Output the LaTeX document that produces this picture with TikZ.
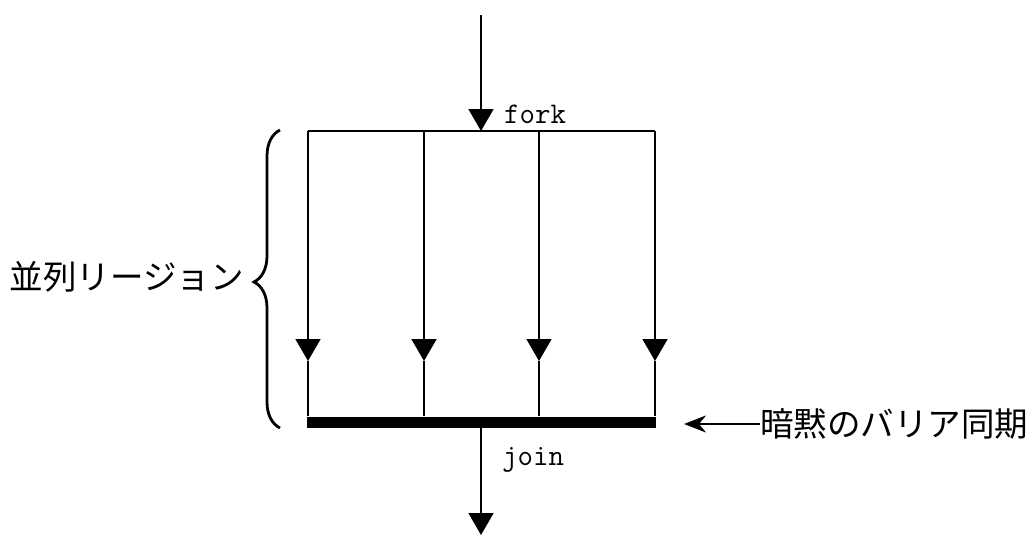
\documentclass[tikz,border=0pt]{standalone}
\usepackage{fontspec}
\newfontfamily\jpfont{Noto Sans CJK JP}
\usetikzlibrary{arrows.meta,decorations.pathreplacing}
\begin{document}
\begin{tikzpicture}[x=1pt,y=-1pt,
  line/.style={line width=1.6pt},
  tri/.style={-{Triangle[width=25pt,length=22pt]}},
  jp/.style={font=\jpfont\fontsize{33.5}{33.5}\selectfont, inner sep=0pt},
  lbl/.style={font=\ttfamily\fontsize{30}{30}\selectfont, inner sep=0pt}]
\useasboundingbox (0,0) rectangle (1034,535);
% coordinates
\coordinate (in) at (481,15);
\coordinate (fork) at (481,131);
\coordinate (out) at (481,535);
\coordinate (t1) at (308,131);
\coordinate (t2) at (424,131);
\coordinate (t3) at (539,131);
\coordinate (t4) at (655,131);
\coordinate (m1) at (308,361);
\coordinate (m2) at (424,361);
\coordinate (m3) at (539,361);
\coordinate (m4) at (655,361);
\node (bar) [fill, inner sep=0pt, minimum width=349pt, minimum height=11pt] at (481.5,422) {};
% fork
\draw[line, tri] (in) -- (fork);
\draw[line] (t1) -- (t4);
\foreach \i in {1,2,3,4} {
  \draw[line, tri] (t\i) -- (m\i);
  \draw[line] (m\i) -- (m\i |- bar.north);
}
\draw[line, tri] (bar.south -| fork) -- (out);
% labels
\node (forklbl) [lbl, anchor=base west] at (504,123) {fork};
\node (joinlbl) [lbl, anchor=base west] at (502,465) {join};
% brace
\coordinate (bb) at (280,428);
\coordinate (bt) at (280,130);
\draw[line width=2.8pt, decorate, decoration={brace, amplitude=26pt, aspect=0.49}] (bb) -- (bt);
\node (region) [jp, anchor=east] at (244,277) {並列リージョン};
% barrier
\node (barrier) [jp, anchor=west] at (760,424) {暗黙のバリア同期};
\draw[line, -{Stealth[length=22pt,width=17pt,inset=7pt]}] (barrier.west) -- ++(-76,0) coordinate (btip);
\end{tikzpicture}
\end{document}
